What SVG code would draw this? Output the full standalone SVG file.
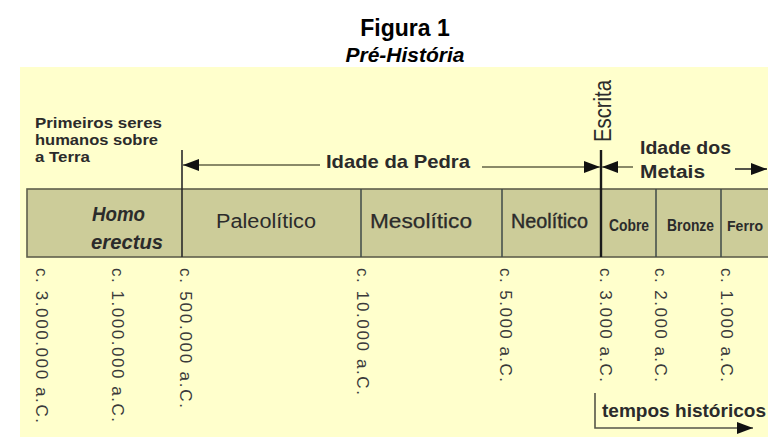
<svg xmlns="http://www.w3.org/2000/svg" width="768" height="437" viewBox="0 0 768 437">
<style>
text{font-family:"Liberation Sans",Arial,sans-serif;fill:#2b2b2b}
.title{font-weight:bold;fill:#000;text-anchor:middle}
.lbl{font-weight:bold}
.per{font-size:20px}
.met{font-weight:bold}
.date{font-size:17px;fill:#3a3a3a}
.conn{fill:none;stroke:#8a8a68;stroke-width:2}
.vline{stroke:#2a2a2a;stroke-width:1.6}
.div{stroke:#3f4a48;stroke-width:1.5}
</style>
<defs>
<marker id="ah" viewBox="0 0 16 12" markerWidth="16" markerHeight="12" refX="16" refY="6" orient="auto" markerUnits="userSpaceOnUse">
<path d="M0,0 L16,6 L0,12 Z" fill="#111"/>
</marker>
</defs>
<g id="title">
<text class="title" x="405" y="36" font-size="23">Figura 1</text>
<text class="title" x="405" y="62" font-size="21" font-style="italic">Pré-História</text>
</g>
<rect id="background" x="20" y="67" width="748" height="370" fill="#ffffcc"/>
<g id="bar">
<rect x="27" y="189" width="760" height="68" fill="#cccc99" stroke="#5f5f4c" stroke-width="1.6"/>
</g>
<g id="node-homo">
<text class="lbl" x="92" y="221" font-size="20" font-style="italic" textLength="53" lengthAdjust="spacingAndGlyphs">Homo</text>
<text class="lbl" x="91" y="249" font-size="20" font-style="italic" textLength="72" lengthAdjust="spacingAndGlyphs">erectus</text>
</g>
<g id="node-paleolitico">
<line class="vline" x1="182" y1="150" x2="182" y2="257"/>
<text class="per" x="216" y="228" textLength="100" lengthAdjust="spacingAndGlyphs">Paleolítico</text>
</g>
<g id="node-mesolitico">
<line class="div" x1="361" y1="189" x2="361" y2="257"/>
<text class="per" x="370" y="228" textLength="102" lengthAdjust="spacingAndGlyphs" stroke="#2b2b2b" stroke-width="0.25">Mesolítico</text>
</g>
<g id="node-neolitico">
<line class="div" x1="502" y1="189" x2="502" y2="257"/>
<text class="per" x="511" y="228" textLength="77" lengthAdjust="spacingAndGlyphs" stroke="#2b2b2b" stroke-width="0.4">Neolítico</text>
</g>
<g id="node-cobre">
<line x1="601" y1="150" x2="601" y2="257" stroke="#1a1a1a" stroke-width="2.4"/>
<text class="met" x="609" y="231" font-size="17" textLength="40" lengthAdjust="spacingAndGlyphs">Cobre</text>
</g>
<g id="node-bronze">
<line class="div" x1="656" y1="189" x2="656" y2="257"/>
<text class="met" x="667" y="231" font-size="17" textLength="47" lengthAdjust="spacingAndGlyphs">Bronze</text>
</g>
<g id="node-ferro">
<line class="div" x1="721" y1="189" x2="721" y2="257"/>
<text class="met" x="727" y="231" font-size="15" textLength="36" lengthAdjust="spacingAndGlyphs">Ferro</text>
</g>
<g id="node-primeiros">
<text class="lbl" x="35" y="128" font-size="15" textLength="127" lengthAdjust="spacingAndGlyphs">Primeiros seres</text>
<text class="lbl" x="35" y="145" font-size="15" textLength="123" lengthAdjust="spacingAndGlyphs">humanos sobre</text>
<text class="lbl" x="35" y="162" font-size="15" textLength="55" lengthAdjust="spacingAndGlyphs">a Terra</text>
</g>
<g id="node-idade-pedra">
<text class="lbl" x="326" y="168" font-size="19" textLength="144" lengthAdjust="spacingAndGlyphs">Idade da Pedra</text>
</g>
<g id="node-escrita">
<text transform="translate(611,142) rotate(-90)" font-size="23" textLength="62" lengthAdjust="spacingAndGlyphs">Escrita</text>
</g>
<g id="node-idade-metais">
<text class="lbl" x="640" y="154" font-size="18" textLength="91" lengthAdjust="spacingAndGlyphs">Idade dos</text>
<text class="lbl" x="640" y="178" font-size="18" textLength="65" lengthAdjust="spacingAndGlyphs">Metais</text>
</g>
<g id="dates">
<text class="date" transform="translate(35.5,268) rotate(90)" textLength="155">c. 3.000.000 a.C.</text>
<text class="date" transform="translate(112,268) rotate(90)" textLength="154">c. 1.000.000 a.C.</text>
<text class="date" transform="translate(180,268) rotate(90)" textLength="140">c. 500.000 a.C.</text>
<text class="date" transform="translate(357,268) rotate(90)" textLength="127">c. 10.000 a.C.</text>
<text class="date" transform="translate(500,268) rotate(90)" textLength="114">c. 5.000 a.C.</text>
<text class="date" transform="translate(600,268) rotate(90)" textLength="114">c. 3.000 a.C.</text>
<text class="date" transform="translate(655,268) rotate(90)" textLength="114">c. 2.000 a.C.</text>
<text class="date" transform="translate(721,268) rotate(90)" textLength="114">c. 1.000 a.C.</text>
</g>
<g id="node-tempos">
<text x="602" y="417" font-size="19" font-weight="bold" textLength="164" lengthAdjust="spacingAndGlyphs">tempos históricos</text>
</g>
<g id="connectors">
<line class="conn" x1="320" y1="165" x2="183" y2="165" marker-end="url(#ah)"/>
<line class="conn" x1="482" y1="167" x2="600" y2="167" marker-end="url(#ah)"/>
<line class="conn" x1="633" y1="167" x2="602" y2="167" marker-end="url(#ah)"/>
<line x1="735" y1="169" x2="767" y2="169" stroke="#2a2a2a" stroke-width="1.6" marker-end="url(#ah)"/>
<polyline points="595,393 595,428 753,428" fill="none" stroke="#555548" stroke-width="1.6" marker-end="url(#ah)"/>
</g>
</svg>
